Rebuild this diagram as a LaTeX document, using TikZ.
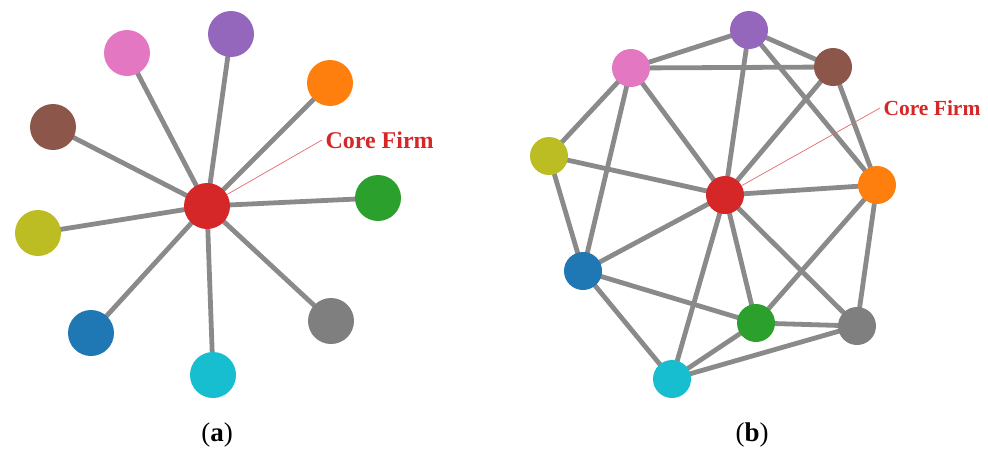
\documentclass[tikz,border=0pt]{standalone}
\usepackage{fontspec}
\setmainfont{Liberation Serif}
\usepackage{tikz}
\usetikzlibrary{positioning,backgrounds}
\definecolor{tabblue}{HTML}{1F77B4}
\definecolor{taborange}{HTML}{FF7F0E}
\definecolor{tabgreen}{HTML}{2CA02C}
\definecolor{tabred}{HTML}{D62728}
\definecolor{tabpurple}{HTML}{9467BD}
\definecolor{tabbrown}{HTML}{8C564B}
\definecolor{tabpink}{HTML}{E377C2}
\definecolor{tabgray}{HTML}{7F7F7F}
\definecolor{tabolive}{HTML}{BCBD22}
\definecolor{tabcyan}{HTML}{17BECF}
\definecolor{edgegray}{HTML}{8A8A8A}
\tikzset{firm/.style={circle,inner sep=0pt,minimum size=46pt,fill=#1},
         smallfirm/.style={circle,inner sep=0pt,minimum size=38pt,fill=#1},
         tie/.style={edgegray,line width=4.8pt},
         pointer/.style={tabred!70,line width=0.7pt},
         corelabel/.style={anchor=west,text=tabred,font=\bfseries\fontsize{24}{26}\selectfont}}

\begin{document}
\begin{tikzpicture}[x=1pt,y=-1pt]
\useasboundingbox (0,0) rectangle (988,450);

% (a) star
\node[firm=tabred] (core) at (207,206) {};
\node[firm=tabpink] (pink) at (127,53) {};
\node[firm=tabpurple] (purple) at (231,34) {};
\node[firm=taborange] (orange) at (330,83) {};
\node[firm=tabbrown] (brown) at (53,127) {};
\node[firm=tabgreen] (green) at (378,198) {};
\node[firm=tabolive] (olive) at (38,233) {};
\node[firm=tabblue] (blue) at (91,333) {};
\node[firm=tabcyan] (cyan) at (213,375) {};
\node[firm=tabgray] (gray) at (331,321) {};

\begin{scope}[on background layer]
\foreach \n in {pink,purple,orange,brown,green,olive,blue,cyan,gray}
{
\draw[tie] (core.center) -- (\n.center);
}
\end{scope}

\node[corelabel] (corelab) at (322,140) {Core Firm};
\draw[pointer] (corelab.west) -- (core);

% (b) network
\node[smallfirm=tabred] (bcore) at (725,195) {};
\node[smallfirm=tabpurple] (bpurple) at (749,30) {};
\node[smallfirm=tabpink] (bpink) at (631,68) {};
\node[smallfirm=tabbrown] (bbrown) at (833,67) {};
\node[smallfirm=tabolive] (bolive) at (549,156) {};
\node[smallfirm=taborange] (borange) at (877,185) {};
\node[smallfirm=tabblue] (bblue) at (583,271) {};
\node[smallfirm=tabgreen] (bgreen) at (756,323) {};
\node[smallfirm=tabgray] (bgray) at (857,326) {};
\node[smallfirm=tabcyan] (bcyan) at (672,379) {};

\begin{scope}[on background layer]
\foreach \a/\b in {bpink/bpurple,bpink/bbrown,bpurple/bbrown,bpurple/bcore,
                   bpurple/borange,bbrown/bcore,bbrown/borange,bpink/bolive,
                   bpink/bcore,bpink/bblue,bolive/bcore,bolive/bblue,
                   bcore/borange,bcore/bblue,bcore/bcyan,bcore/bgreen,
                   bcore/bgray,borange/bgreen,borange/bgray,bblue/bgreen,
                   bblue/bcyan,bgreen/bgray,bgreen/bcyan,bcyan/bgray}
{
\draw[tie] (\a.center) -- (\b.center);
}
\end{scope}

\node[corelabel,font=\bfseries\fontsize{21.5}{24}\selectfont] (bcorelab) at (880,108) {Core Firm};
\draw[pointer] (bcorelab.west) -- (bcore);

% captions
\node[font=\fontsize{27}{30}\selectfont] (capa) at (217,435) {(\textbf{a})};
\node[font=\fontsize{27}{30}\selectfont] (capb) at (752,435) {(\textbf{b})};
\end{tikzpicture}
\end{document}
